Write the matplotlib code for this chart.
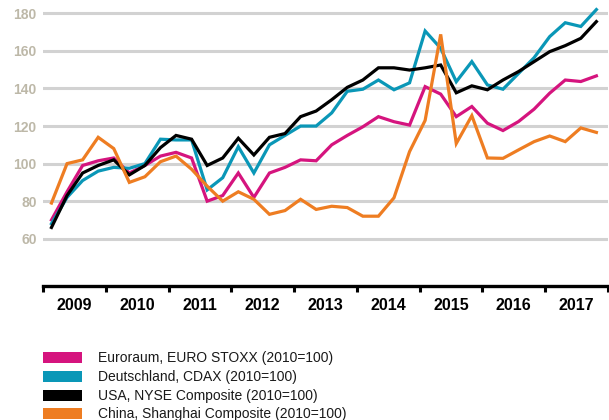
"""
Aktienindizes im Vergleich (Quartalswerte, 2010=100).
Writes out.png.
"""
import matplotlib
matplotlib.use("Agg")
import matplotlib.pyplot as plt
from matplotlib.patches import Rectangle

plt.rcParams["font.family"] = ["Liberation Sans", "DejaVu Sans"]

YEARS = list(range(2009, 2018))

# quarterly values, 2009Q1 .. 2017Q4
euro_stoxx = [70, 85, 99, 101.5, 103, 95, 99, 104, 106, 103, 80, 83, 95, 82, 95, 98, 102, 101.5,
              110, 115, 119.6, 125, 122.3, 120.5, 141, 137, 125, 130.4, 121.5, 117.6, 122.4, 129,
              137.5, 144.5, 143.7, 146.7]
cdax = [68, 82, 91, 96, 98, 97.5, 100, 113, 112.6, 112.6, 86, 92.5, 109, 95, 110, 115, 120, 120,
        127, 138.5, 139.6, 144.5, 139.3, 143, 170.6, 161.4, 143.6, 154.3, 141.9, 139.6, 148, 156.4,
        167.6, 175, 173, 182]
nyse = [66, 83, 95, 99, 102, 94, 99, 108.5, 115, 113, 99, 103, 113.5, 104.6, 114, 116, 125, 128,
        134, 140.6, 144.5, 151, 151, 149.8, 151, 152.5, 137.7, 141.4, 139.3, 144.5, 149, 154.3,
        159.6, 162.8, 166.7, 175.6]
shanghai = [79, 100, 102, 114, 108, 90, 93, 101, 104, 97, 88, 80, 85, 81, 73, 75, 81, 75.6,
            77.3, 76.6, 72, 72, 81.8, 106.4, 123, 168.8, 110.7, 125.5, 103, 102.8, 107.3, 111.7,
            114.7, 111.7, 119, 116.6]

labels = [
    "Euroraum, EURO STOXX (2010=100)",
    "Deutschland, CDAX (2010=100)",
    "USA, NYSE Composite (2010=100)",
    "China, Shanghai Composite (2010=100)",
]
colors = ["#d5147e", "#0a97b7", "#000000", "#ee7d22"]
series = [euro_stoxx, cdax, nyse, shanghai]

# points sit roughly mid-quarter, slightly compressed toward the end
x = [YEARS[0] + 0.135 + 0.248 * i for i in range(len(nyse))]

fig = plt.figure(figsize=(6.09, 4.2), dpi=100)
ax = fig.add_axes([43 / 609, 1 - 285.7 / 420, 565 / 609, 285.7 / 420])

for vals, col in zip(series, colors):
    ax.plot(x, vals, color=col, lw=2.3, solid_joinstyle="miter", zorder=3)

ax.set_xlim(2009, 2018)
ax.set_ylim(35, 187.1)

# y axis: grid only, grey labels
ax.set_yticks(range(60, 181, 20))
for v in range(60, 181, 20):
    ax.axhline(v, color="#d2d2d2", lw=2.2, zorder=1)
ax.tick_params(axis="y", length=0, pad=4.5, labelsize=10, labelcolor="#bdb8a8")
for t in ax.get_yticklabels():
    t.set_fontweight("bold")

# x axis: ticks at year boundaries, labels in the middle
ax.set_xticks(range(2009, 2019))
ax.set_xticklabels([])
ax.set_xticks([y + 0.5 for y in YEARS], minor=True)
ax.set_xticklabels([str(y) for y in YEARS], minor=True, fontsize=11.5, fontweight="bold")
ax.tick_params(axis="x", which="major", direction="out", length=4, width=2.2)
ax.tick_params(axis="x", which="minor", length=0, pad=9)

for s in ["top", "right", "left"]:
    ax.spines[s].set_visible(False)
ax.spines["bottom"].set_linewidth(2.4)

# legend drawn by hand below the chart
row_y = [357.2, 376.5, 395.3, 413.2]
for lab, col, yc in zip(labels, colors, row_y):
    fig.add_artist(Rectangle((43 / 609, 1 - (yc + 5.5) / 420), 39 / 609, 11 / 420,
                             transform=fig.transFigure, color=col, lw=0))
    fig.text(98 / 609, 1 - (yc + 5) / 420, lab, fontsize=10, color="#1a1a1a", va="baseline")

fig.savefig("out.png", dpi=100)
